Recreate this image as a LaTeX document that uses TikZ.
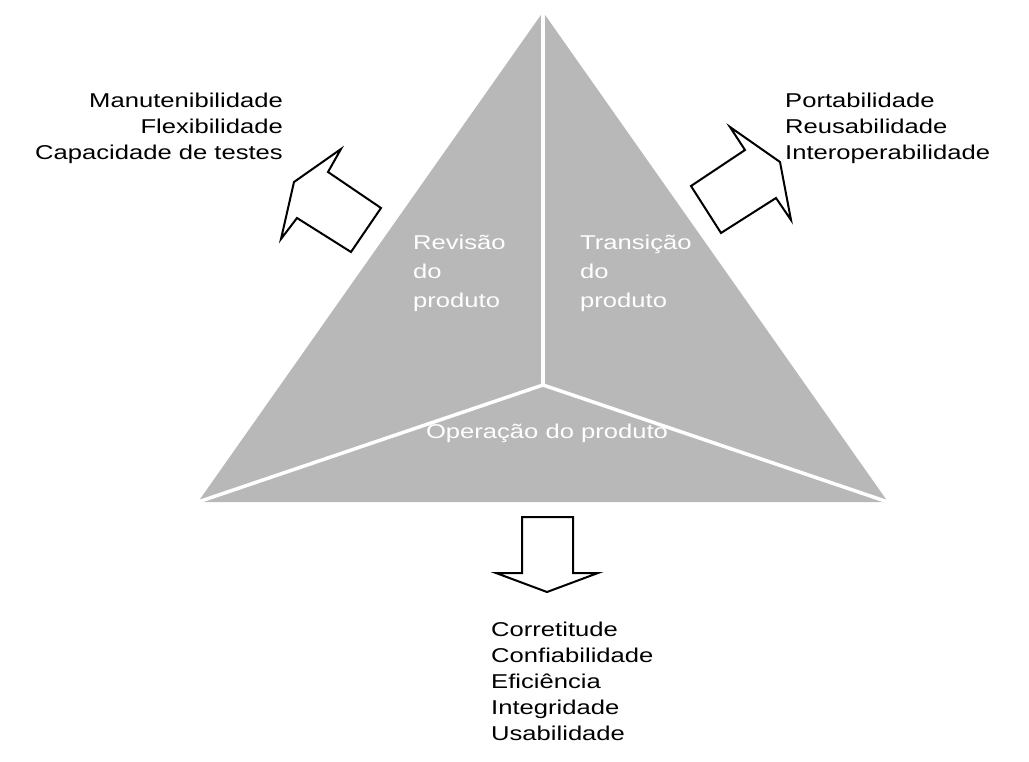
\documentclass[tikz,border=0pt]{standalone}
\usepackage{fontspec}
\setmainfont[FakeStretch=1.28]{Liberation Sans}
\usepackage{tikz}
\usetikzlibrary{positioning}

\begin{document}
\begin{tikzpicture}[x=1pt, y=-1pt,
    every node/.style={inner sep=0pt},
    listtext/.style={font=\fontsize{20}{26}\selectfont},
    facetext/.style={font=\fontsize{20}{29}\selectfont, white, align=left},
    blockarrow/.style={draw=black, line width=2pt, fill=white, line join=miter}]
        \useasboundingbox (0,0) rectangle (1029,762);

        % Triangle with three faces
        \coordinate (top) at (543,12);
        \coordinate (left) at (198,502);
        \coordinate (right) at (888,502);
        \coordinate (mid) at (543,385);
        \fill[black!28] (top) -- (left) -- (right) -- cycle;
        \draw[white, line width=3.5pt] (mid) -- (top);
        \draw[white, line width=3.5pt] (mid) -- (left);
        \draw[white, line width=3.5pt] (mid) -- (right);

        % Face labels
        \node[facetext, anchor=west] (revisao) at (413,273) {Revisão\\do\\produto};
        \node[facetext, anchor=west] (transicao) at (580,273) {Transição\\do\\produto};
        \node[facetext] (operacao) at (547,433) {Operação do produto};

        % Block arrows
        \draw[blockarrow] (341,149) -- (328,172) -- (381,208) -- (351,252) -- (297,218) -- (281,239) -- (294,182) -- cycle;
        \draw[blockarrow] (791,220) -- (776,198) -- (721,233) -- (691,186) -- (745,150) -- (730,127) -- (780,162) -- cycle;
        \draw[blockarrow] (522,517) -- (573,517) -- (573,573) -- (598,573) -- (547,592) -- (496,573) -- (522,573) -- cycle;

        % Quality factors
        \node[listtext, align=right, anchor=east] (revlist) at (283,128) {Manutenibilidade\\Flexibilidade\\Capacidade de testes};
        \node[listtext, align=left, anchor=west] (translist) at (785,128) {Portabilidade\\Reusabilidade\\Interoperabilidade};
        \node[listtext, align=left, anchor=west] (oplist) at (491,681) {Corretitude\\Confiabilidade\\Eficiência\\Integridade\\Usabilidade};

    \end{tikzpicture}
\end{document}
